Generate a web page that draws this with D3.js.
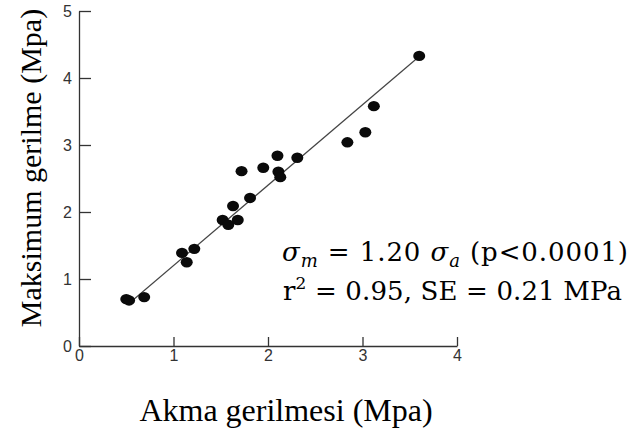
<!DOCTYPE html>
<html>
<head>
<meta charset="utf-8">
<script src="https://cdn.jsdelivr.net/npm/d3@7"></script>
<style>
  html, body { margin: 0; padding: 0; background: #fff; }
  svg { display: block; }
  .domain, .tick line { stroke: #333; stroke-width: 1.3; }
</style>
</head>
<body>
<svg id="chart" width="633" height="429"></svg>
<script>
// ── Data ──
const yieldStress = [0.50, 0.53, 0.69, 1.09, 1.14, 1.22, 1.52, 1.58, 1.68, 1.63, 1.81,
                     1.72, 1.95, 2.10, 2.11, 2.13, 2.31, 2.84, 3.03, 3.12, 3.60];
const maxStress   = [0.70, 0.68, 0.73, 1.39, 1.25, 1.45, 1.88, 1.81, 1.88, 2.09, 2.21,
                     2.61, 2.66, 2.84, 2.60, 2.52, 2.81, 3.04, 3.19, 3.58, 4.33];
const xTicks = [0, 1, 2, 3, 4];
const yTicks = [0, 1, 2, 3, 4, 5];
const slope = 1.20;
const fitRange = [0.55, 3.6];

const svg = d3.select("#chart");
const serif = "'Liberation Serif', 'Times New Roman', serif";

// plot frame (x=0 at 79px, y=0 at 346px)
const x = d3.scaleLinear().domain([0, 4]).range([79, 457]);
const y = d3.scaleLinear().domain([0, 5]).range([346, 11]);

// ── Axes ──
const gx = svg.append("g")
  .attr("transform", "translate(0,346)")
  .call(d3.axisBottom(x).tickValues(xTicks).tickFormat(d3.format("d"))
    .tickSizeInner(-9).tickSizeOuter(0).tickPadding(4));

const gy = svg.append("g")
  .attr("transform", "translate(79,0)")
  .call(d3.axisLeft(y).tickValues(yTicks).tickFormat(d3.format("d"))
    .tickSizeInner(-12).tickSizeOuter(0).tickPadding(7));

[gx, gy].forEach(g => g.selectAll(".tick text")
  .style("font-family", "'Liberation Sans', Arial, sans-serif")
  .style("font-size", "16px")
  .style("fill", "#333"));

// ── Regression line ──
svg.append("line")
  .attr("x1", x(fitRange[0])).attr("y1", y(slope * fitRange[0]))
  .attr("x2", x(fitRange[1])).attr("y2", y(slope * fitRange[1]))
  .attr("stroke", "#444")
  .attr("stroke-width", 1.2);

// ── Points ──
svg.selectAll(".pt")
  .data(yieldStress.map((d, i) => [d, maxStress[i]]))
  .join("ellipse")
  .attr("class", "pt")
  .attr("cx", d => x(d[0]))
  .attr("cy", d => y(d[1]))
  .attr("rx", 6)
  .attr("ry", 5.2)
  .attr("fill", "#0a0a0a");

// ── Axis titles ──
svg.append("text")
  .attr("x", 286).attr("y", 421)
  .attr("text-anchor", "middle")
  .style("font-family", serif)
  .style("font-size", "32px")
  .text("Akma gerilmesi (Mpa)");

svg.append("text")
  .attr("transform", "translate(41,168) rotate(-90)")
  .attr("text-anchor", "middle")
  .style("font-family", serif)
  .style("font-size", "30px")
  .text("Maksimum gerilme (Mpa)");

// ── Annotation ──
const note = svg.append("g")
  .style("font-family", "'DejaVu Serif', serif")
  .style("font-size", "26px");

const l1 = note.append("text").attr("x", 282).attr("y", 261)
  .attr("textLength", 346).attr("lengthAdjust", "spacing");
l1.append("tspan").style("font-style", "italic").text("σ");
l1.append("tspan").style("font-style", "italic").style("font-size", "18px").attr("dy", 6).text("m");
l1.append("tspan").attr("dy", -6).text(" = 1.20 ");
l1.append("tspan").style("font-style", "italic").text("σ");
l1.append("tspan").style("font-style", "italic").style("font-size", "18px").attr("dy", 6).text("a");
l1.append("tspan").attr("dy", -6).text(" (p<0.0001)");

const l2 = note.append("text").attr("x", 283).attr("y", 300)
  .attr("textLength", 339).attr("lengthAdjust", "spacing");
l2.append("tspan").text("r");
l2.append("tspan").style("font-size", "17px").attr("dy", -11).text("2");
l2.append("tspan").attr("dy", 11).text(" = 0.95, SE = 0.21 MPa");
</script>
</body>
</html>
